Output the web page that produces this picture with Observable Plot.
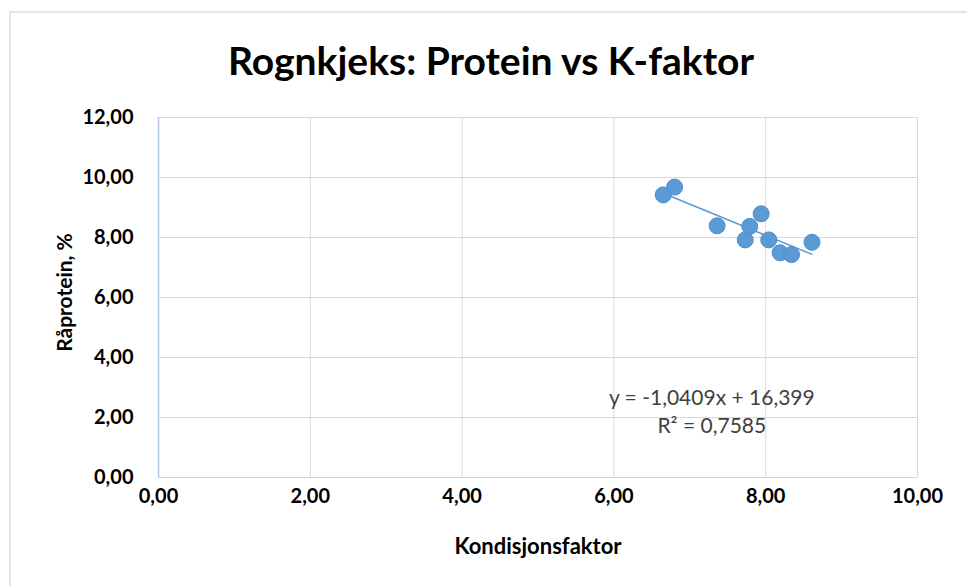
<!DOCTYPE html>
<html>
<head>
<meta charset="utf-8">
<script src="https://cdn.jsdelivr.net/npm/d3@7"></script>
<script src="https://cdn.jsdelivr.net/npm/@observablehq/plot@0.6"></script>
<style>
  html, body { margin: 0; padding: 0; background: #fff; }
  #wrap { position: relative; width: 967px; height: 586px; overflow: hidden; }
  #frame { position: absolute; left: 9px; top: 11px; width: 970px; height: 600px;
           border-left: 2px solid #e1e5ec; border-top: 2px solid #e1e5ec; box-sizing: border-box; }
  #chart { position: absolute; left: 0; top: 0; }
</style>
</head>
<body>
<div id="wrap"><div id="frame"></div><div id="chart"></div></div>
<script>
// Data
const kFactor = [6.65, 6.80, 7.36, 7.73, 7.79, 7.94, 8.04, 8.19, 8.34, 8.61];
const protein = [9.42, 9.68, 8.39, 7.92, 8.37, 8.79, 7.92, 7.49, 7.43, 7.84];
const xTicks = [0, 2, 4, 6, 8, 10];
const yTicks = [0, 2, 4, 6, 8, 10, 12];
const slope = -1.0409;
const intercept = 16.399;
const eqLines = ["y = -1,0409x + 16,399", "R² = 0,7585"];
const title = "Rognkjeks: Protein vs K-faktor";
const xLabel = "Kondisjonsfaktor";
const yLabel = "Råprotein, %";

const points = kFactor.map((k, i) => ({k, p: protein[i]}));
const xMin = d3.min(kFactor), xMax = d3.max(kFactor);
const trend = [xMin, xMax].map(k => ({k, p: slope * k + intercept}));
const fmt = d => d.toFixed(2).replace(".", ",");

const font = "Lato, 'Open Sans', sans-serif";

const plot = Plot.plot({
  width: 967,
  height: 586,
  marginLeft: 158,
  marginRight: 50,
  marginTop: 117,
  marginBottom: 109,
  style: {fontFamily: font, background: "transparent", overflow: "visible"},
  x: {domain: [0, 10]},
  y: {domain: [0, 12]},
  marks: [
    Plot.gridX(xTicks, {stroke: "#d9d9d9", strokeOpacity: 1, strokeWidth: 1}),
    Plot.gridY(yTicks, {stroke: "#d9d9d9", strokeOpacity: 1, strokeWidth: 1}),
    Plot.ruleY([0], {stroke: "#c9d3e3", strokeWidth: 1.2}),
    Plot.ruleX([0], {stroke: "#b4c7e7", strokeWidth: 1.5}),
    Plot.axisX(xTicks, {tickSize: 0, tickPadding: 11, tickFormat: fmt, fontSize: 20, fontWeight: "bold", fill: "#000", label: null}),
    Plot.axisY(yTicks, {tickSize: 0, tickPadding: 25, tickFormat: fmt, fontSize: 20, fontWeight: "bold", fill: "#000", label: null}),
    Plot.line(trend, {x: "k", y: "p", stroke: "#5b9bd5", strokeWidth: 1.5}),
    Plot.dot(points, {x: "k", y: "p", r: 8, fill: "#5b9bd5", stroke: "#4a8ccc", strokeWidth: 1}),
    Plot.text([eqLines[0]], {x: 7.29, y: 2.63, text: d => d, fontSize: 21, fill: "#404040"}),
    Plot.text([eqLines[1]], {x: 7.29, y: 1.70, text: d => d, fontSize: 21, fill: "#404040"}),
    Plot.text([title], {frameAnchor: "top", lineAnchor: "middle", dx: -47, dy: -55, text: d => d, fontSize: 39, fontWeight: "bold", fill: "#000"}),
    Plot.text([xLabel], {frameAnchor: "bottom", lineAnchor: "middle", dy: 69, text: d => d, fontSize: 22, fontWeight: "bold", fill: "#000"}),
    Plot.text([yLabel], {frameAnchor: "left", lineAnchor: "middle", textAnchor: "middle", dx: -93, dy: -5, rotate: -90, text: d => d, fontSize: 21, fontWeight: "bold", fill: "#000"})
  ]
});
document.getElementById("chart").appendChild(plot);
</script>
</body>
</html>
